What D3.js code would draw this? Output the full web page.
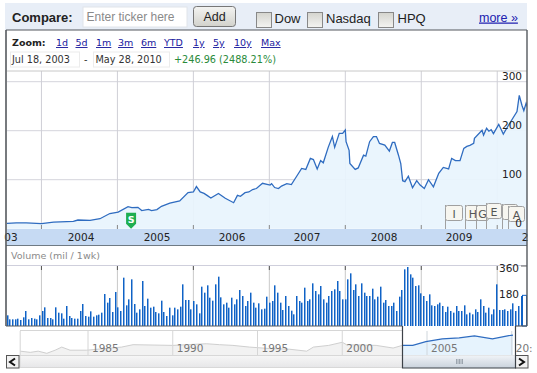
<!DOCTYPE html>
<html><head><meta charset="utf-8">
<script src="https://cdn.jsdelivr.net/npm/d3@7"></script>
<style>html,body{margin:0;padding:0;background:#fff}svg{display:block}text{font-family:"DejaVu Sans",sans-serif}.ar{font-family:"Liberation Sans",Arial,sans-serif}</style>
</head><body><div id="c"></div>
<script>
const priceYears=[2003.54,2003.67,2003.80,2004.00,2004.16,2004.42,2004.48,2004.64,2004.77,2004.90,2005.01,2005.14,2005.19,2005.27,2005.32,2005.41,2005.45,2005.52,2005.58,2005.69,2005.82,2005.93,2006.00,2006.04,2006.09,2006.14,2006.18,2006.23,2006.33,2006.42,2006.53,2006.58,2006.62,2006.68,2006.73,2006.78,2006.83,2006.91,2007.01,2007.03,2007.07,2007.12,2007.16,2007.23,2007.29,2007.36,2007.425,2007.48,2007.54,2007.58,2007.63,2007.675,2007.71,2007.775,2007.83,2007.86,2007.92,2007.965,2008.00,2008.01,2008.05,2008.06,2008.13,2008.17,2008.24,2008.27,2008.32,2008.37,2008.41,2008.45,2008.52,2008.58,2008.62,2008.65,2008.70,2008.73,2008.755,2008.785,2008.83,2008.885,2008.94,2008.985,2009.04,2009.095,2009.16,2009.23,2009.29,2009.36,2009.40,2009.45,2009.51,2009.56,2009.60,2009.64,2009.69,2009.70,2009.80,2009.82,2009.86,2009.89,2009.92,2009.95,2010.02,2010.08,2010.15,2010.26,2010.29,2010.325,2010.35,2010.38,2010.405];
const priceValues=[10.9,12,12,10.5,13.5,15,17.7,17,20.4,31,34,45,43,43.6,37,39.5,37,39,45.7,52,56.6,73.6,75,86,75,72,68,62.7,72,62,53,68,66,73.6,75,80,82,92.7,89,92,84,82,87,92,90,107,123,121,143.5,141,122,139,134.5,166,188,166,194.6,194.6,201.4,177.6,160,133,121,124,150,148,177.6,188,188,174,170.8,158.5,176,176,150,133,98,96,107,83.5,98,89,82,100,85.5,113,125,122,143.5,139,139,164,168,170,174,184.5,201,191,205,199,202,194,213,193,211.6,239,272,252,241,256,246];
const volumeValues=[64,40,40,40,44,36,52,90,40,48,44,40,64,90,112,48,48,40,112,80,76,44,120,60,48,44,44,90,132,60,56,88,56,64,68,80,192,140,168,84,204,112,90,290,124,160,280,132,
80,100,270,120,164,110,116,84,76,152,84,60,110,64,110,100,116,250,156,156,100,150,130,76,236,200,244,170,152,250,296,172,130,140,110,170,130,160,216,180,120,150,200,140,110,136,100,104,176,140,150,
244,200,140,96,180,120,92,70,180,150,140,230,150,160,256,210,190,240,160,140,180,210,220,270,210,160,160,280,316,216,250,180,256,200,180,180,224,160,176,236,140,156,120,120,140,90,176,216,340,354,
310,290,240,244,196,180,150,190,124,120,130,140,120,84,116,90,80,120,90,90,124,70,80,70,100,84,160,120,80,110,70,100,250,96,96,100,90,100,136,90,120,180];
const partialWeekVolume=184;
const yearTicks=[2004,2005,2006,2007,2008,2009,2010];
const yearLabels=["03","2004","2005","2006","2007","2008","2009","2"];
const priceTicks=[0,100,200,300];
const volumeTicks=[180,360];
const navYears=[1981,1981.6,1982.06,1982.57,1983.06,1983.45,1983.94,1984.92,1986.98,1987.66,1990,1991.98,1992.76,1993.55,1994.53,1995.7,1996.9,1997.9,1998.3,1999.2,2000,2000.25,2002,2003,2003.54];
const navValues=[16,11,16,7,20,33,20,20,33,43,40,47,43,40,33,27,24,16,33,40,53,43,40,29,40];
const navSelYears=[2003.54,2004.16,2004.93,2005.9,2006.9,2007.8,2008.86,2009.75,2010.07];
const navSelValues=[40,40,56,67,71,80,67,80,83];
const navTicks=[1981,1985,1990,1995,2000,2005,2010];
const navLabels=["1985","1990","1995","2000","2005","20:"];
const zoomLinks=["1d","5d","1m","3m","6m","YTD","1y","5y","10y","Max"];
const compareNames=["Dow","Nasdaq","HPQ"];
const flagLabels=["I","H","G","E","","A"];

const W=537,H=373;
const svg=d3.select("#c").append("svg").attr("width",W).attr("height",H);
const defs=svg.append("defs");
function grad(id,stops){const g=defs.append("linearGradient").attr("id",id).attr("x1",0).attr("x2",0).attr("y1",0).attr("y2",1);stops.forEach(s=>g.append("stop").attr("offset",s[0]).attr("stop-color",s[1]));}
grad("btn",[[0,"#f4f4f2"],[1,"#d2d2cc"]]);
grad("chk",[[0,"#d4d4ce"],[1,"#f4f4f2"]]);
grad("scroll",[[0,"#f7f7f7"],[1,"#e6e6e8"]]);
grad("thumb",[[0,"#f0f3f7"],[1,"#c9d2dc"]]);
defs.append("clipPath").attr("id","pane").append("rect").attr("x",7).attr("y",71).attr("width",520).attr("height",158);

const x=d3.scaleLinear().domain([2003.54,2010.405]).range([6.5,528]);
const y=d3.scaleLinear().domain([0,300]).range([228.7,81.7]);
const vy=d3.scaleLinear().domain([0,360]).range([326,266]);
const vx=d3.scaleBand().domain(d3.range(volumeValues.length)).range([6.5,522]).paddingInner(0.45);
const nx=d3.scaleLinear().domain([1985,2005]).range([88,427]);
const ny=d3.scaleLinear().domain([0,100]).range([355,331]);

// compare bar
svg.append("rect").attr("x",5).attr("y",3).attr("width",522).attr("height",27).attr("fill","#e8eef7");
svg.append("text").attr("class","ar").attr("x",12).attr("y",22).attr("font-size",13).attr("font-weight","bold").attr("fill","#222").text("Compare:");
svg.append("rect").attr("x",83).attr("y",7).attr("width",104).attr("height",20).attr("fill","#fff").attr("stroke","#e0e4ea");
svg.append("text").attr("class","ar").attr("x",86.5).attr("y",21).attr("font-size",12).attr("fill","#8a8a8a").text("Enter ticker here");
svg.append("rect").attr("x",193.5).attr("y",6.5).attr("width",42).attr("height",20).attr("rx",3).attr("fill","url(#btn)").attr("stroke","#777");
svg.append("text").attr("class","ar").attr("x",214.5).attr("y",21).attr("text-anchor","middle").attr("font-size",12.5).attr("fill","#222").text("Add");
const chkX=[256,307,378],chkT=[274.5,326,397.5];
compareNames.forEach((n,i)=>{
 svg.append("rect").attr("x",chkX[i]+.5).attr("y",12.5).attr("width",15).attr("height",15).attr("fill","url(#chk)").attr("stroke","#888");
 svg.append("text").attr("class","ar").attr("x",chkT[i]).attr("y",22.5).attr("font-size",13).attr("fill","#222").text(n);
});
svg.append("text").attr("class","ar").attr("x",479).attr("y",21.5).attr("font-size",12.5).attr("fill","#2020b0").attr("text-decoration","underline").text("more »");

// zoom row
svg.append("text").attr("x",12).attr("y",46).attr("font-size",9.5).attr("font-weight","bold").attr("fill","#222").text("Zoom:");
const zoomX=[56,75.5,96,118,141,164,193,213,234,261];
zoomLinks.forEach((z,i)=>svg.append("text").attr("x",zoomX[i]).attr("y",46).attr("font-size",9.5).attr("fill","#2020a0").attr("text-decoration","underline").text(z));
svg.append("rect").attr("x",10.5).attr("y",52).attr("width",69).attr("height",15).attr("fill","#fff").attr("stroke","#ececec");
svg.append("rect").attr("x",93.5).attr("y",52).attr("width",76).attr("height",15).attr("fill","#fff").attr("stroke","#ececec");
svg.append("text").attr("x",12).attr("y",63).attr("font-size",9.7).attr("fill","#333").text("Jul 18, 2003");
svg.append("text").attr("x",84).attr("y",63).attr("font-size",9.7).attr("fill","#333").text("-");
svg.append("text").attr("x",95.5).attr("y",63).attr("font-size",9.7).attr("fill","#333").text("May 28, 2010");
svg.append("text").attr("x",174).attr("y",63).attr("font-size",9.7).attr("fill","#2a8a3a").text("+246.96 (2488.21%)");

// main pane grid
const grid=svg.append("g");
grid.selectAll("line.h").data(priceTicks.slice(1)).join("line").attr("x1",7).attr("x2",527).attr("y1",d=>y(d)).attr("y2",d=>y(d)).attr("stroke","#d4d4dc");
grid.selectAll("line.v").data(yearTicks).join("line").attr("x1",d=>x(d)).attr("x2",d=>x(d)).attr("y1",71).attr("y2",229).attr("stroke","#cfcfd6");
svg.append("line").attr("x1",7).attr("x2",527).attr("y1",71).attr("y2",71).attr("stroke","#c8c8c8");

// price
const g=svg.append("g").attr("clip-path","url(#pane)");
const pts=priceYears.map((t,i)=>[t,priceValues[i]]);
g.append("path").attr("d",d3.area().x(d=>x(d[0])).y0(y(0)).y1(d=>y(d[1]))(pts)).attr("fill","#e8f4fd").attr("opacity",.92);
g.append("path").attr("d",d3.line().x(d=>x(d[0])).y(d=>y(d[1]))(pts)).attr("fill","none").attr("stroke","#2f6cc0").attr("stroke-width",1.3);
yearTicks.forEach(t=>svg.append("line").attr("x1",x(t)).attr("x2",x(t)).attr("y1",225).attr("y2",229).attr("stroke","#888"));

// date band
svg.append("rect").attr("x",7).attr("y",229).attr("width",520).attr("height",16).attr("fill","#c6daf3");
const labelX=[11,81,157,232,307,384,459,525];
yearLabels.forEach((l,i)=>svg.append("text").attr("x",labelX[i]).attr("y",241).attr("text-anchor","middle").attr("font-size",10.5).attr("fill","#222").text(l));
svg.append("line").attr("x1",6).attr("x2",527).attr("y1",245.5).attr("y2",245.5).attr("stroke","#6f7a84");

// S flag
const fx=x(2005.18),fy=y(0);
svg.append("path").attr("transform",`translate(${fx},${fy})`).attr("d","M-5,-16H5V-5L0,0L-5,-5Z").attr("fill","#1fae50");
svg.append("text").attr("x",fx).attr("y",fy-6).attr("text-anchor","middle").attr("font-size",9.5).attr("font-weight","bold").attr("fill","#fff").text("S");

// event flags
const flagBox=[[445,17,205],[465,15,205],[476,12,205],[486,15,203],[502,15,204],[508,16,206]];
flagLabels.forEach((l,i)=>{
 const [bx,bw,by]=flagBox[i];
 svg.append("line").attr("x1",bx+.5).attr("x2",bx+.5).attr("y1",by).attr("y2",229).attr("stroke","#a0a0a0");
 svg.append("rect").attr("x",bx+.5).attr("y",by+.5).attr("width",bw).attr("height",15).attr("rx",2).attr("fill","#f7f6f0").attr("stroke","#a0a0a0");
 svg.append("text").attr("x",bx+bw/2+.5).attr("y",by+12.5).attr("text-anchor","middle").attr("font-size",11).attr("fill","#555").text(l);
});

// price axis
const ya=svg.append("g").attr("transform","translate(522,0)").call(d3.axisLeft(y).tickValues(priceTicks).tickSize(0).tickPadding(0));
ya.select(".domain").remove();
ya.selectAll("text").attr("font-size",10.5).attr("font-family","DejaVu Sans").attr("fill","#222").attr("dy","-0.12em");
ya.selectAll(".tick").attr("transform",d=>`translate(0,${y(d)-0.5})`);

// volume pane
svg.append("text").attr("x",11).attr("y",259).attr("font-size",9.5).attr("fill","#8a8a8a").text("Volume (mil / 1wk)");
svg.append("line").attr("x1",7).attr("x2",527).attr("y1",265.5).attr("y2",265.5).attr("stroke","#cfcfdc");
svg.selectAll("line.vg").data(yearTicks).join("line").attr("x1",d=>x(d)).attr("x2",d=>x(d)).attr("y1",266).attr("y2",326).attr("stroke","#c9c9c9");
svg.selectAll("line.vt").data(yearTicks).join("line").attr("x1",d=>x(d)).attr("x2",d=>x(d)).attr("y1",266).attr("y2",270).attr("stroke","#555");
svg.selectAll("rect.vb").data(volumeValues).join("rect").attr("x",(d,i)=>Math.round(vx(i))).attr("width",vx.bandwidth()).attr("y",d=>vy(d)).attr("height",d=>vy(0)-vy(d)).attr("fill","#0f62c6");
svg.append("rect").attr("x",522.5).attr("y",vy(partialWeekVolume)).attr("width",4).attr("height",vy(0)-vy(partialWeekVolume)).attr("fill","#fff").attr("stroke","#0f62c6");
const va=svg.append("g").attr("transform","translate(519,0)").call(d3.axisLeft(vy).tickValues(volumeTicks).tickSize(0).tickPadding(0));
va.select(".domain").remove();
va.selectAll("text").attr("font-size",10.5).attr("font-family","DejaVu Sans").attr("fill","#222");
va.selectAll(".tick").attr("transform",d=>`translate(0,${d===360?269:295})`);
volumeTicks.slice(1).forEach(v=>svg.append("line").attr("x1",521).attr("x2",527).attr("y1",vy(v)).attr("y2",vy(v)).attr("stroke","#666"));

// navigator
svg.append("rect").attr("x",20).attr("y",330).attr("width",382).attr("height",25).attr("fill","#fff");
svg.append("line").attr("x1",20).attr("x2",402).attr("y1",330.5).attr("y2",330.5).attr("stroke","#d6d6d6");
const navPts=navYears.map((t,i)=>[t,navValues[i]]);
svg.append("path").attr("d",d3.area().x(d=>nx(d[0])).y0(355).y1(d=>ny(d[1]))(navPts)).attr("fill","#f2f2f2");
svg.append("path").attr("d",d3.line().x(d=>nx(d[0])).y(d=>ny(d[1]))(navPts)).attr("fill","none").attr("stroke","#cfcfcf");
svg.selectAll("line.n").data(navTicks).join("line").attr("x1",d=>nx(d)).attr("x2",d=>nx(d)).attr("y1",331).attr("y2",355).attr("stroke","#d6d6d6");
// selected window
svg.append("rect").attr("x",402.5).attr("y",326).attr("width",113).attr("height",42).attr("fill","#fff");
const selPts=navSelYears.map((t,i)=>[t,navSelValues[i]]);
svg.append("path").attr("d",d3.area().x(d=>nx(d[0])).y0(355).y1(d=>ny(d[1]))(selPts)).attr("fill","#e6f3fd");
svg.selectAll("line.n2").data([2005,2010]).join("line").attr("x1",d=>nx(d)).attr("x2",d=>nx(d)).attr("y1",331).attr("y2",355).attr("stroke","#cfd6dc");
svg.append("path").attr("d",d3.line().x(d=>nx(d[0])).y(d=>ny(d[1]))(selPts)).attr("fill","none").attr("stroke","#2f6cc0").attr("stroke-width",1.2);
const navLabelYears=[1985,1990,1995,2000,2005,2010];
navLabels.forEach((l,i)=>svg.append("text").attr("x",nx(navLabelYears[i])+4).attr("y",352).attr("font-size",10.5).attr("fill","#777").text(l));
// scrollbar
svg.append("rect").attr("x",20).attr("y",355.5).attr("width",507).attr("height",12).attr("fill","url(#scroll)").attr("stroke","#d8d8d8");
svg.append("rect").attr("x",402.5).attr("y",355.5).attr("width",113).attr("height",12.5).attr("fill","url(#thumb)");
d3.range(5).forEach(i=>svg.append("line").attr("x1",456.5+i*1.5).attr("x2",456.5+i*1.5).attr("y1",359).attr("y2",364).attr("stroke","#8b95a0").attr("stroke-width",.8));
function arrow(bx,dir){
 svg.append("rect").attr("x",bx+.5).attr("y",355.5).attr("width",12.5).attr("height",12.5).attr("fill","#f2f2f2").attr("stroke","#555");
 const c=bx+6.5;
 svg.append("path").attr("d",`M${c+dir*2.5},358.5L${c-dir*2.5},362L${c+dir*2.5},365.5`).attr("fill","none").attr("stroke","#111").attr("stroke-width",2);
}
arrow(6,1);arrow(515,-1);

// frames
const frame="#55595e";
svg.append("line").attr("x1",6).attr("x2",6).attr("y1",30).attr("y2",326).attr("stroke",frame).attr("stroke-width",1.6);
svg.append("line").attr("x1",527).attr("x2",527).attr("y1",30).attr("y2",326).attr("stroke",frame).attr("stroke-width",1.4);
svg.append("line").attr("x1",6).attr("x2",527).attr("y1",30).attr("y2",30).attr("stroke",frame).attr("stroke-width",1.2);
svg.append("line").attr("x1",6).attr("x2",402).attr("y1",326).attr("y2",326).attr("stroke",frame).attr("stroke-width",1.2);
svg.append("line").attr("x1",516).attr("x2",527).attr("y1",326).attr("y2",326).attr("stroke",frame).attr("stroke-width",1.2);
svg.append("path").attr("d","M402.5,326V368H515.5V326").attr("fill","none").attr("stroke","#3d4248").attr("stroke-width",1.2);
</script></body></html>
